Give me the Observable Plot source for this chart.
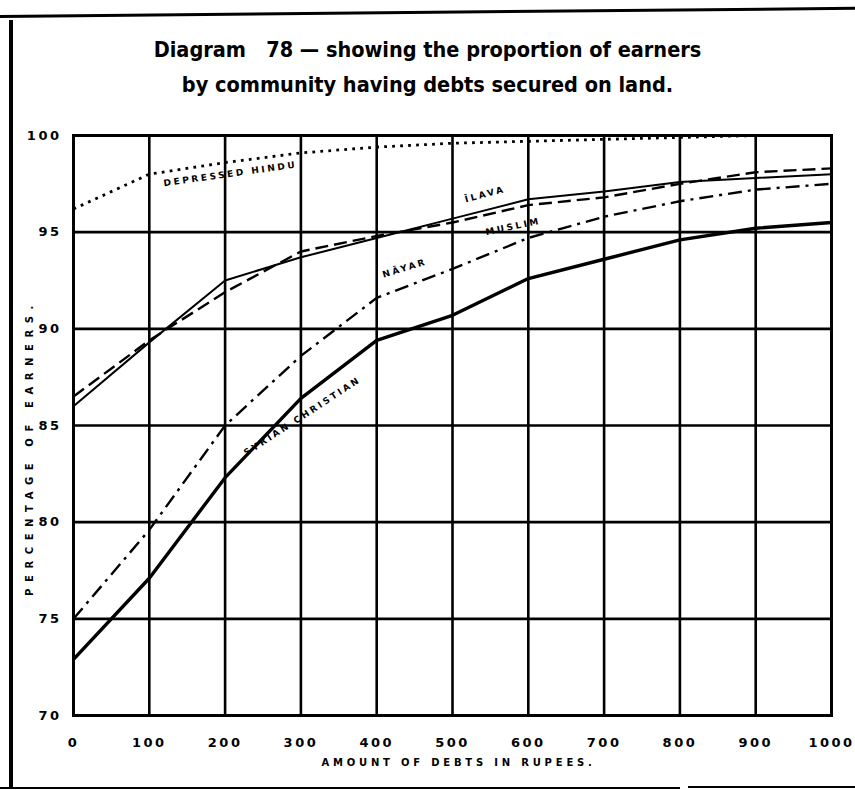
<!DOCTYPE html>
<html><head><meta charset="utf-8">
<script src="https://cdn.jsdelivr.net/npm/d3@7"></script>
<script src="https://cdn.jsdelivr.net/npm/@observablehq/plot@0.6"></script>
<style>
body{margin:0;background:#fff;}
#page{position:relative;width:855px;height:790px;overflow:hidden;background:#fff;}
#title{height:100px;box-sizing:border-box;padding-top:32px;text-align:center;font-family:"DejaVu Sans Condensed","DejaVu Sans",sans-serif;font-weight:bold;font-size:21.5px;line-height:35px;color:#000;white-space:nowrap;}
#chart svg{display:block;}
.b{position:absolute;background:#000;}
</style></head><body>
<div id="page">
<div id="title"><div>Diagram&nbsp;&nbsp; 78 — showing the proportion of earners</div><div>by community having debts secured on land.</div></div>
<div id="chart"></div>
<div class="b" style="left:0;top:15px;width:870px;height:3px;transform:rotate(-0.55deg);transform-origin:0 0"></div>
<div class="b" style="left:9px;top:20px;width:4px;height:768px"></div>
<div class="b" style="left:0;top:787px;width:680px;height:2px"></div>
<div class="b" style="left:688px;top:786px;width:170px;height:2px"></div>
</div>
<script>
// ---- data ----
const amounts = [0, 100, 200, 300, 400, 500, 600, 700, 800, 900, 1000];
const depressedHindu  = [96.2, 98.0, 98.6, 99.1, 99.4, 99.6, 99.7, 99.8, 99.9, 100.0, 100.0];
const ilava           = [86.0, 89.3, 92.5, 93.7, 94.7, 95.7, 96.7, 97.1, 97.6, 97.8, 98.0];
const muslim          = [86.5, 89.4, 91.9, 94.0, 94.8, 95.5, 96.4, 96.8, 97.5, 98.1, 98.3];
const nayar           = [75.0, 79.6, 85.0, 88.6, 91.6, 93.1, 94.7, 95.8, 96.6, 97.2, 97.5];
const syrianChristian = [72.9, 77.1, 82.3, 86.4, 89.4, 90.7, 92.6, 93.6, 94.6, 95.2, 95.5];
const seriesNames  = ["Depressed Hindu", "Ilava", "Muslim", "Nayar", "Syrian Christian"];
const seriesLabels = ["DEPRESSED HINDU", "ĪLAVA", "MUSLIM", "NĀYAR", "SYRIAN CHRISTIAN"];
const xTicks = [0, 100, 200, 300, 400, 500, 600, 700, 800, 900, 1000];
const yTicks = [70, 75, 80, 85, 90, 95, 100];
const xTitle = "AMOUNT OF DEBTS IN RUPEES.";
const yTitle = "PERCENTAGE OF EARNERS.";

// ---- styles (not data) ----
const lineStyle = {
  "Depressed Hindu":  {strokeWidth: 2.8, dash: "2.8,5.2"},
  "Ilava":            {strokeWidth: 2, dash: null},
  "Muslim":           {strokeWidth: 2.4, dash: "13,6"},
  "Nayar":            {strokeWidth: 2.4, dash: "14,6,3,6"},
  "Syrian Christian": {strokeWidth: 3.4, dash: null}
};
// label placement: anchor along series (x in rupees), pixel offset, rotation
const labelPlace = {
  "Depressed Hindu":  {at: 207, dy: 12, rotate: -8},
  "Ilava":            {at: 543, dy: -16, rotate: -15},
  "Muslim":           {at: 580, dy: 18, rotate: -12},
  "Nayar":            {at: 437, dy: -19, rotate: -17},
  "Syrian Christian": {at: 302, dy: 19, rotate: -33}
};

const valuesBy = {"Depressed Hindu": depressedHindu, "Ilava": ilava, "Muslim": muslim, "Nayar": nayar, "Syrian Christian": syrianChristian};
const rows = seriesNames.flatMap(s => amounts.map((a, i) => ({series: s, amount: a, pct: valuesBy[s][i]})));
function interp(s, x) {
  const v = valuesBy[s];
  const i = Math.min(amounts.length - 2, Math.floor(x / 100));
  const t = (x - amounts[i]) / (amounts[i+1] - amounts[i]);
  return v[i] + t * (v[i+1] - v[i]);
}
const labelRows = seriesNames.map((s, k) => ({series: s, text: seriesLabels[k], amount: labelPlace[s].at, pct: interp(s, labelPlace[s].at)}));

const W = 855, H = 690, mL = 73, mR = 24, mT = 35, mB = 75;
const textBold = {fontFamily: "DejaVu Sans, sans-serif", fontWeight: "bold"};

const marks = [
  Plot.gridX(xTicks, {stroke: "black", strokeOpacity: 1, strokeWidth: 2.6}),
  Plot.gridY(yTicks, {stroke: "black", strokeOpacity: 1, strokeWidth: 2.6}),
  Plot.frame({stroke: "black", strokeWidth: 3}),
  ...seriesNames.map(s => Plot.line(rows.filter(r => r.series === s), {
    x: "amount", y: "pct", stroke: "black", strokeWidth: lineStyle[s].strokeWidth,
    strokeDasharray: lineStyle[s].dash || undefined, strokeLinecap: "butt", strokeLinejoin: "round"
  })),
  ...labelRows.map(r => Plot.text([r], {
    x: "amount", y: "pct", text: "text", dy: labelPlace[r.series].dy, rotate: labelPlace[r.series].rotate,
    fontSize: 9, ...textBold, fill: "black"
  })),
  Plot.axisX(xTicks, {anchor: "bottom", tickSize: 0, tickPadding: 22, fontSize: 13, label: null, tickFormat: d => String(d)}),
  Plot.axisY(yTicks, {anchor: "left", tickSize: 0, tickPadding: 12, fontSize: 13, label: null, tickFormat: d => String(d)}),
  Plot.text([xTitle], {frameAnchor: "bottom", text: d => d, dy: 50, dx: 6, fontSize: 10, textAnchor: "middle", ...textBold}),
  Plot.text([yTitle], {frameAnchor: "left", text: d => d, dx: -44, dy: 22, rotate: -90, fontSize: 10, textAnchor: "middle", ...textBold})
];

const chart = Plot.plot({
  width: W, height: H, marginLeft: mL, marginRight: mR, marginTop: mT, marginBottom: mB,
  x: {domain: [0, 1000], axis: null},
  y: {domain: [70, 100], axis: null},
  style: {background: "white", color: "black", fontFamily: "DejaVu Sans, sans-serif", fontWeight: "bold", overflow: "visible"},
  marks
});
document.getElementById("chart").appendChild(chart);
// letter-spacing by content (typographic styling only)
const tickSet = new Set([...xTicks, ...yTicks].map(String));
d3.select(chart).selectAll("text").each(function() {
  const t = this.textContent;
  const el = d3.select(this);
  if (tickSet.has(t)) el.attr("letter-spacing", 2.5).attr("fill", "black");
  else if (t === xTitle) el.attr("letter-spacing", 3.8);
  else if (t === yTitle) el.attr("letter-spacing", 6.6);
  else if (seriesLabels.includes(t)) el.attr("letter-spacing", 2.6);
});
</script>
</body></html>
